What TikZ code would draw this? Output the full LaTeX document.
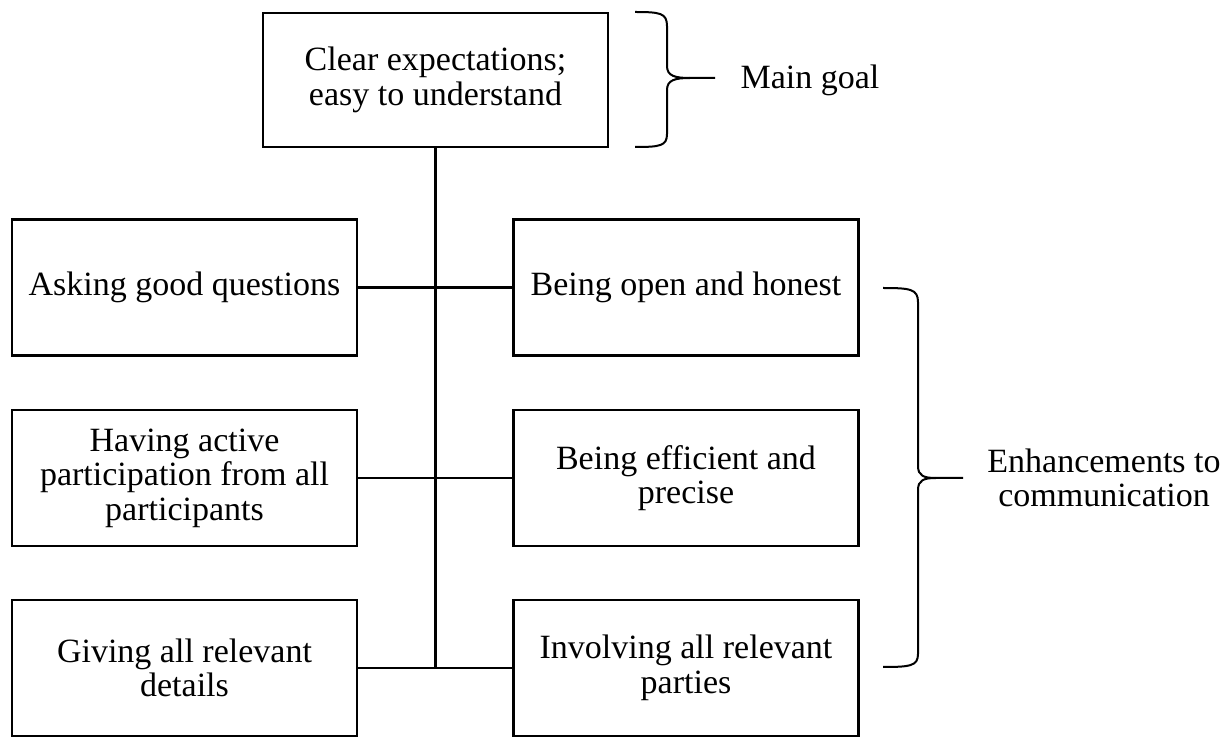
\documentclass[tikz,border=0pt]{standalone}
\usepackage{fontspec}
\setmainfont{Liberation Serif}
\begin{document}
\begin{tikzpicture}[x=0.5pt,y=-0.5pt,
  txt/.style={font=\fontsize{17}{17.3}\selectfont, align=center},
  box/.style={txt, draw, line width=1.2pt, minimum width=172.5pt, minimum height=68pt, inner sep=2pt},
  conn/.style={line width=1.2pt},
  bracestyle/.style={line width=1pt}]
\useasboundingbox (0,0) rectangle (1227,737);
% boxes
\node[box, minimum height=67pt] (top) at (435.5,80) {Clear expectations;\\easy to understand};
\node[box] (l1) at (184.5,287.5) {Asking good questions};
\node[box] (r1) at (686,287.5) {Being open and honest};
\node[box] (l2) at (184.5,478) {Having active\\participation from all\\participants};
\node[box] (r2) at (686,478) {Being efficient and\\precise};
\node[box] (l3) at (184.5,668) {Giving all relevant\\details};
\node[box] (r3) at (686,668) {Involving all relevant\\parties};
% connectors
\draw[conn] (top.south) -- (top.south |- l3.east);
\draw[conn] (l1.east) -- (r1.west);
\draw[conn] (l2.east) -- (r2.west);
\draw[conn] (l3.east) -- (r3.west);
% braces
\coordinate (g) at (715,78);
\coordinate (e) at (963,478);
\draw[bracestyle] (635,12) .. controls (660,12) and (667,13) .. (667,26) -- (667,66)
  .. controls (667,76) and (675,78) .. (690,78) -- (g);
\draw[bracestyle] (690,78) .. controls (675,78) and (667,80) .. (667,90) -- (667,134)
  .. controls (667,146) and (660,147) .. (635,147);
\draw[bracestyle] (883,288) .. controls (910,288) and (918,289) .. (918,302) -- (918,466)
  .. controls (918,476) and (924,478) .. (936,478) -- (e);
\draw[bracestyle] (936,478) .. controls (924,478) and (918,480) .. (918,490) -- (918,654)
  .. controls (918,666) and (910,667) .. (883,667);
% labels
\node[txt] (goal) at (810,80) {Main goal};
\node[txt] (enh) at (1104,478) {Enhancements to\\communication};
\end{tikzpicture}
\end{document}
